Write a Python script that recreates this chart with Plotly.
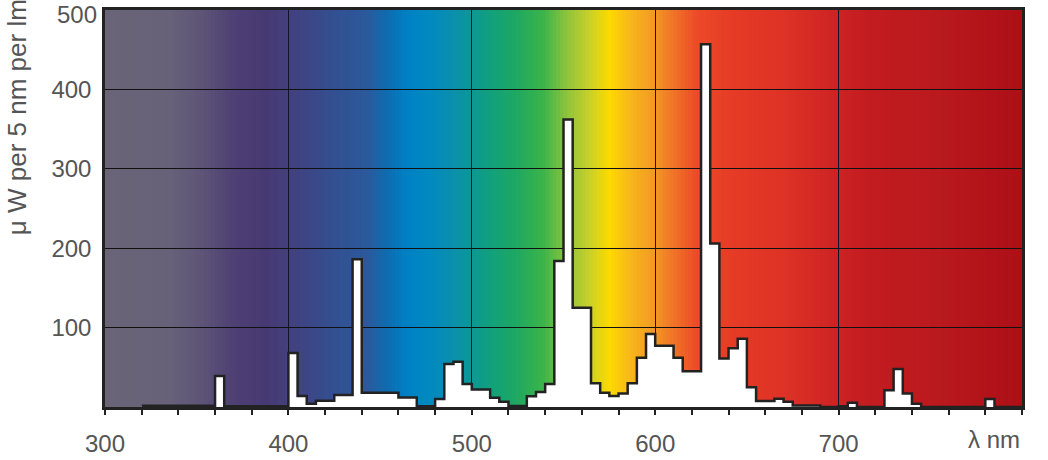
import numpy as np
import plotly.graph_objects as go

# 5 nm bins, start wavelength of each bin
bin_start = list(range(320, 800, 5))
power = [
    1.5, 1.5, 1.5, 1.5, 1.5, 1.5, 1.5, 1.5,   # 320-355
    39, 1, 1, 1, 1, 1, 1, 1,                  # 360-395
    68, 14, 4, 8, 8, 15, 15, 186,             # 400-435
    18, 18, 18, 18, 12, 12, 1, 1,             # 440-475
    10, 54, 57, 29, 22, 22, 11.5, 6.5,        # 480-515
    1.3, 1.3, 13.5, 19, 29, 184, 362, 125,    # 520-555
    125, 30, 18, 14, 17, 30, 62, 92,          # 560-595
    77, 77, 62, 45, 45, 457, 206, 61,         # 600-635
    74, 86, 25, 7.5, 7.5, 10.5, 6.5, 2,       # 640-675
    2, 2, 0, 0, 1, 5.5, 0, 0,                 # 680-715
    0, 21, 48, 17, 4, 0, 0, 0,                # 720-755
    0, 0, 0, 0, 10, 0, 0, 0,                  # 760-795
]

x_ticks = [300, 400, 500, 600, 700]
y_ticks = [100, 200, 300, 400, 500]
y_labels = ['100', '200', '300', '400', '']   # top label placed by hand below

# colour stops of the spectrum backdrop
grad_nm = [300, 334, 352, 370, 388, 406, 424, 443, 454, 464, 475, 488, 499,
           510, 524, 539, 552, 564, 575, 586, 599, 608, 623, 644, 672, 695,
           717, 753, 800]
grad_col = ['#6a6478', '#686279', '#5e5577', '#4e4074', '#473a73', '#404382',
            '#344f90', '#2a5a9c', '#0f6cb0', '#0080c4', '#0088c2', '#0a8fb0',
            '#0d9698', '#11a07c', '#1ea862', '#3bb44a', '#8fc43c', '#c8d02a',
            '#fcda00', '#f8b81a', '#f39a22', '#f07a27', '#ec4a28', '#e53a26',
            '#dd3226', '#cf2524', '#c21c20', '#ba1a1e', '#ad0f17']


def hex_rgb(h):
    return [int(h[i:i + 2], 16) for i in (1, 3, 5)]


rgb = np.array([hex_rgb(c) for c in grad_col], dtype=float)

fig = go.Figure()

# backdrop strips, drawn under the grid; each one overlaps the next to hide seams
step = 2
for x0 in np.arange(300, 800, step):
    xm = x0 + step / 2
    r, g, b = (np.interp(xm, grad_nm, rgb[:, k]) for k in range(3))
    fig.add_shape(type='rect', xref='x', yref='y', x0=x0, x1=min(x0 + step * 1.8, 800),
                  y0=0, y1=500, layer='below', line_width=0,
                  fillcolor=f'rgb({r:.0f},{g:.0f},{b:.0f})')

xs = bin_start + [bin_start[-1] + 5]
ys = power + [power[-1]]
fig.add_trace(go.Scatter(x=xs, y=ys, mode='lines', line_shape='hv',
                         fill='tozeroy', fillcolor='white',
                         line=dict(color='#222', width=2.5),
                         hoverinfo='skip', showlegend=False))

axis_font = dict(family='Liberation Sans, Arial, sans-serif', size=24, color='#555')

fig.update_xaxes(range=[300, 800], tickvals=x_ticks, showgrid=True,
                 gridcolor='#141428', gridwidth=1.3,
                 showline=True, linecolor='#222', linewidth=2.5, mirror=True,
                 ticks='outside', ticklen=5, tickcolor='#222', tickwidth=1.5,
                 minor=dict(dtick=20, tick0=300, ticks='outside', ticklen=5,
                            tickcolor='#222', tickwidth=1.5, showgrid=False),
                 tickfont=axis_font, ticklabelstandoff=8, zeroline=False,
                 automargin=False)
fig.update_yaxes(range=[0, 500], tickvals=y_ticks, ticktext=y_labels,
                 showgrid=True, gridcolor='#111', gridwidth=1.3,
                 showline=True, linecolor='#222', linewidth=2.5, mirror=True,
                 ticks='', tickfont=axis_font, ticklabelstandoff=6,
                 zeroline=False, automargin=False)

fig.add_annotation(text=str(y_ticks[-1]), x=0, y=y_ticks[-1], xref='paper', yref='y',
                   xanchor='right', yanchor='middle', xshift=-6, yshift=-4,
                   showarrow=False, font=axis_font)
fig.add_annotation(text='λ nm', x=800, y=0, xref='x', yref='y',
                   xanchor='right', yanchor='top', yshift=-17,
                   showarrow=False, font=axis_font)
fig.add_annotation(text='μ W per 5 nm per lm', textangle=-90,
                   x=0, y=0.73, xref='paper', yref='paper',
                   xanchor='center', yanchor='middle', xshift=-88,
                   showarrow=False,
                   font=dict(family='Liberation Sans, Arial, sans-serif', size=26, color='#555'))

fig.update_layout(width=1048, height=460,
                  margin=dict(l=105, r=26, t=10, b=53),
                  paper_bgcolor='white', plot_bgcolor='white',
                  font=dict(family='Liberation Sans, Arial, sans-serif', color='#555'))

# drop the browser's default page margin so the figure sits at the window corner
fig.write_html("out.html", config={'displayModeBar': False},
               post_script="document.body.style.margin='0';document.body.style.overflow='hidden';")
